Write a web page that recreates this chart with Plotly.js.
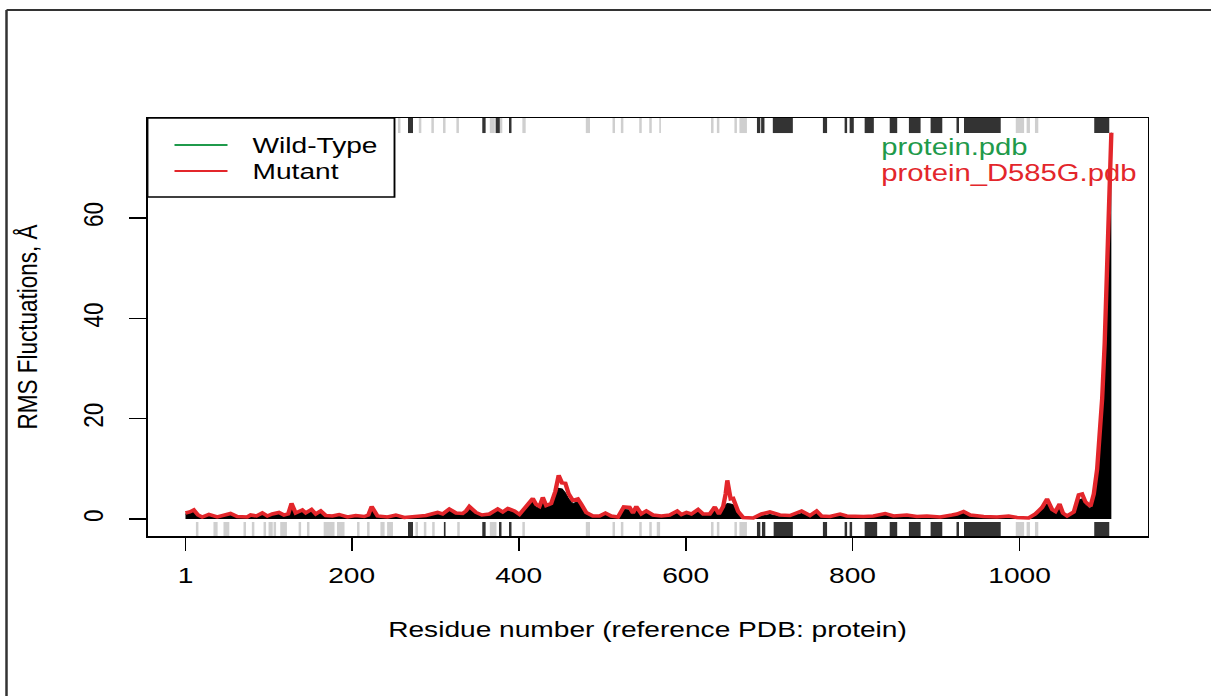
<!DOCTYPE html>
<html>
<head>
<meta charset="utf-8">
<script src="https://cdn.plot.ly/plotly-3.0.1.min.js"></script>
<style>
  html, body { margin: 0; padding: 0; background: #ffffff; overflow: hidden; }
  #wrap { width: 1211px; height: 696px; overflow: hidden; }
  #chart { width: 969px; height: 696px; transform: scaleX(1.25); transform-origin: 0 0; }
</style>
</head>
<body>
<div id="wrap"><div id="chart"></div></div>
<script>
// ---- data ----
const residues = [
  1,6,11,16,21,29,39,47,55,63,
  75,79,86,93,99,105,113,119,124,128,
  133,141,145,152,157,163,169,177,185,195,
  205,215,220,224,231,243,253,263,275,289,
  303,309,317,325,333,337,341,349,356,365,
  375,381,387,395,401,409,417,421,425,429,
  433,439,444,448,452,456,460,465,471,475,
  481,489,497,504,511,519,526,533,537,541,
  547,553,561,571,581,590,595,601,607,615,
  621,629,635,640,645,648,650,654,657,663,
  669,681,691,701,713,725,739,749,757,763,
  773,785,793,813,825,839,849,865,877,889,
  905,919,925,933,941,957,973,987,997,1011,
  1019,1027,1033,1039,1043,1048,1052,1057,1065,1071,
  1075,1079,1085,1089,1093,1096,1099,1102,1105,1107,
  1109,1110
];
const rmsfMutant = [
  1.2,1.4,1.8,0.8,0.4,0.9,0.4,0.7,1.1,0.5,
  0.4,0.8,0.6,1.2,0.6,1.0,1.3,0.8,1.0,3.1,
  1.2,1.8,1.2,1.9,1.0,1.6,0.7,0.6,0.9,0.4,
  0.7,0.5,0.8,2.5,0.6,0.4,0.8,0.3,0.5,0.7,
  1.3,1.0,2.0,1.2,1.1,1.6,2.5,1.3,0.8,1.0,
  2.0,1.4,2.1,1.6,0.9,2.5,4.1,2.9,2.5,4.3,
  2.7,3.1,5.5,8.7,7.2,7.1,5.0,3.7,4.0,3.0,
  1.3,0.6,0.6,1.2,0.6,0.4,2.4,2.3,1.2,2.5,
  1.0,1.6,0.8,0.6,0.8,1.6,0.9,1.3,1.0,1.9,
  1.0,1.0,2.4,1.0,2.5,5.0,7.7,4.0,4.1,1.5,
  0.3,0.2,1.0,1.4,0.8,0.7,1.6,0.7,1.6,0.6,
  0.5,1.0,0.6,0.5,0.6,1.1,0.6,0.8,0.5,0.6,
  0.4,0.8,1.0,1.5,0.8,0.5,0.4,0.6,0.3,0.2,
  1.0,2.3,4.0,1.9,1.5,3.0,1.2,0.6,1.4,4.8,
  5.0,3.4,2.5,5.0,10,17,24,35,51,64,
  77,77
];
const rmsfWildType = [
  1.0,1.2,1.5,0.6,0.3,0.7,0.3,0.5,0.9,0.4,
  0.3,0.6,0.5,1.0,0.5,0.8,1.1,0.6,0.8,2.4,
  1.0,1.5,1.0,1.6,0.8,1.3,0.5,0.5,0.7,0.3,
  0.5,0.4,0.6,1.9,0.5,0.3,0.6,0.2,0.4,0.5,
  1.1,0.8,1.7,1.0,0.9,1.3,2.1,1.1,0.6,0.8,
  1.6,1.1,1.7,1.3,0.7,2.0,3.5,2.4,2.1,3.5,
  2.3,2.7,4.5,6.1,6.0,5.2,4.0,3.1,3.4,2.5,
  1.0,0.4,0.4,0.9,0.4,0.3,1.9,1.8,0.9,2.0,
  0.7,1.2,0.5,0.4,0.5,1.2,0.6,1.0,0.7,1.5,
  0.7,0.7,1.8,0.7,1.8,2.8,3.1,3.0,2.8,1.0,
  0.2,0.1,0.6,0.9,0.5,0.5,1.1,0.5,1.1,0.4,
  0.4,0.8,0.5,0.4,0.5,0.9,0.5,0.6,0.4,0.5,
  0.3,0.6,0.8,1.2,0.6,0.4,0.3,0.5,0.2,0.1,
  0.8,1.9,3.0,1.5,1.2,2.4,0.9,0.5,1.1,3.8,
  4.0,2.8,2.0,4.2,9,16,23,34,50,63,
  77,77
];

// secondary-structure segments [start, end] (residue numbers)
const topHelix = [[268,273],[357,360],[373,377],[389,391],[686,689],[691,694],[705,728],[765,769],[791,793],[797,801],[815,825],[845,853],[868,881],[894,907],[925,927],[934,977],[1090,1107]];
const topStrand = [[256,258],[281,283],[296,298],[310,312],[326,328],[366,371],[378,380],[405,408],[481,485],[513,515],[523,525],[545,547],[557,559],[569,570],[631,633],[638,640],[659,661],[665,673],[996,1005],[1009,1012],[1019,1022]];
const bottomHelix = [[268,273],[311,312],[357,360],[377,379],[389,391],[686,689],[692,695],[706,728],[765,769],[791,793],[797,799],[815,829],[845,853],[868,881],[894,907],[925,927],[934,977],[1090,1107]];
const bottomStrand = [[14,16],[35,39],[47,53],[71,73],[81,83],[95,97],[101,105],[107,109],[115,122],[137,139],[147,149],[167,179],[183,191],[207,209],[219,221],[235,239],[243,249],[277,279],[287,289],[297,299],[327,329],[366,373],[405,407],[481,485],[513,515],[523,525],[545,547],[557,559],[566,569],[631,633],[638,640],[659,661],[665,673],[996,1005],[1009,1012],[1019,1022]];

const xTickVals = [1,200,400,600,800,1000];
const yTickVals = [0,20,40,60];
const legendLabels = ['Wild-Type','Mutant'];
const fileLabels = ['protein.pdb','protein_D585G.pdb'];

const GREEN = '#1f9a4b';
const RED = '#e3262b';
const FONT = 'Liberation Sans, Arial, sans-serif';
const FS = 22.5;

function sse(segs, color, y0, y1) {
  return segs.map(s => ({type:'rect', xref:'x', yref:'paper', x0:s[0]-0.5, x1:s[1]+0.5, y0:y0, y1:y1,
    fillcolor:color, line:{width:0}, layer:'below'}));
}

const traces = [
  {x: residues, y: rmsfWildType, type:'scatter', mode:'lines', name: legendLabels[0],
   fill:'tozeroy', fillcolor:'#000000', line:{color:'#000000', width:1}, showlegend:false, hoverinfo:'skip'},
  {x: residues, y: rmsfMutant, type:'scatter', mode:'lines', name: legendLabels[1],
   line:{color:RED, width:3.5}, showlegend:false, hoverinfo:'skip'}
];

const shapes = [].concat(
  sse(topStrand, '#cfcfcf', 0.964, 1.0),
  sse(topHelix, '#333333', 0.964, 1.0),
  sse(bottomStrand, '#cfcfcf', 0.0, 0.0335),
  sse(bottomHelix, '#333333', 0.0, 0.0335),
  [
    // legend box
    {type:'rect', xref:'paper', yref:'paper', x0:0, x1:0.247, y0:0.811, y1:1.0,
     line:{color:'#000000', width:1.5}, fillcolor:'#ffffff', layer:'above'},
    {type:'line', xref:'paper', yref:'paper', x0:0.027, x1:0.080, y0:0.9354, y1:0.9354,
     line:{color:GREEN, width:2}, layer:'above'},
    {type:'line', xref:'paper', yref:'paper', x0:0.027, x1:0.080, y0:0.8732, y1:0.8732,
     line:{color:RED, width:2}, layer:'above'},
    // outer frame (left and top edges)
    {type:'line', xref:'paper', yref:'paper', x0:-0.141, x1:-0.141, y0:-0.5, y1:1.2584,
     line:{color:'#333333', width:2}, layer:'above'},
    {type:'line', xref:'paper', yref:'paper', x0:-0.141, x1:1.3, y0:1.2584, y1:1.2584,
     line:{color:'#333333', width:2}, layer:'above'}
  ]
);

const annotations = [
  {xref:'paper', yref:'paper', x:0.102, y:0.9354, xanchor:'left', yanchor:'middle', showarrow:false,
   text:legendLabels[0], font:{family:FONT, size:FS, color:'#000000'}},
  {xref:'paper', yref:'paper', x:0.102, y:0.8732, xanchor:'left', yanchor:'middle', showarrow:false,
   text:legendLabels[1], font:{family:FONT, size:FS, color:'#000000'}},
  {xref:'paper', yref:'paper', x:0.731, y:0.9306, xanchor:'left', yanchor:'middle', showarrow:false,
   text:fileLabels[0], font:{family:FONT, size:23.4, color:GREEN}},
  {xref:'paper', yref:'paper', x:0.731, y:0.868, xanchor:'left', yanchor:'middle', showarrow:false,
   text:fileLabels[1], font:{family:FONT, size:23.4, color:RED}}
];

const axisCommon = {
  showgrid:false, zeroline:false, showline:true, mirror:true, linecolor:'#000000', linewidth:1.5,
  ticks:'outside', ticklen:13, tickwidth:1.5, tickcolor:'#000000',
  tickfont:{family:FONT, size:FS, color:'#000000'}, fixedrange:true
};

const layout = {
  width:969, height:696,
  margin:{l:118.4, r:50.6, t:118, b:160, pad:0},
  paper_bgcolor:'#ffffff', plot_bgcolor:'#ffffff',
  font:{family:FONT, size:FS, color:'#000000'},
  showlegend:false,
  xaxis: Object.assign({}, axisCommon, {
    range:[-44.5, 1153.3], tickmode:'array', tickvals:xTickVals, ticktext:xTickVals.map(String),
    ticklabelstandoff:6,
    title:{text:'Residue number (reference PDB: protein)', font:{family:FONT, size:FS, color:'#000000'}, standoff:34}
  }),
  yaxis: Object.assign({}, axisCommon, {
    range:[-3.39, 79.93], tickmode:'array', tickvals:yTickVals, ticktext:yTickVals.map(String),
    tickangle:-90, ticklabelstandoff:12,
    title:{text:'RMS Fluctuations, Å', font:{family:FONT, size:FS, color:'#000000'}, standoff:26}
  }),
  shapes:shapes,
  annotations:annotations
};

Plotly.newPlot('chart', traces, layout, {displayModeBar:false, responsive:false, staticPlot:true});
</script>
</body>
</html>
